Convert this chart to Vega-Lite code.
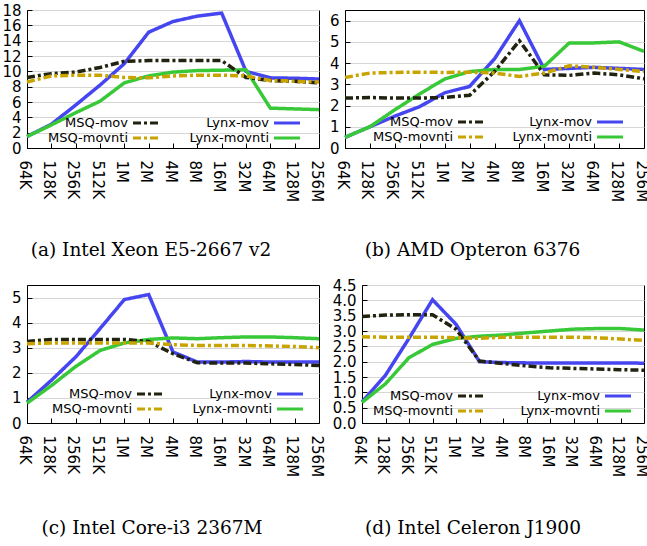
{
"$schema": "https://vega.github.io/schema/vega-lite/v6.json",
"padding": {"left": 1, "top": 2, "right": 0, "bottom": 0},
"background": "white",
"config": {
  "view": {"stroke": "black", "strokeWidth": 1},
  "axis": {"labelFont": "DejaVu Sans", "labelFontSize": 15, "labelColor": "black", "domainColor": "black", "tickColor": "black", "tickSize": -5, "gridColor": "#d6d6d6", "gridWidth": 1, "title": null},
  "axisX": {"labelAngle": 90, "labelPadding": 17, "labelOffset": -3},
  "axisY": {"labelPadding": 11, "minExtent": 0},
  "title": {"font": "DejaVu Serif", "fontSize": 18.5, "fontWeight": "normal", "color": "black", "orient": "bottom", "anchor": "middle", "offset": 39},
  "legend": {"title": null, "orient": "none", "columns": 2, "symbolType": "M-2,0H2", "symbolSize": 169, "symbolStrokeWidth": 3, "labelAlign": "right", "labelOffset": -26, "labelFont": "DejaVu Sans", "labelFontSize": 13, "labelColor": "black", "padding": 2, "rowPadding": -2, "columnPadding": 22,
    "labelExpr": "(datum.label == 'MSQ-mov' || datum.label == 'Lynx-mov') ? '\u00a0\u00a0\u00a0\u00a0' + datum.label : datum.label"}
},
"datasets": {
"a": [
{"x":"64K","s":"Lynx-mov","v":1.5},{"x":"128K","s":"Lynx-mov","v":3.1},{"x":"256K","s":"Lynx-mov","v":5.6},{"x":"512K","s":"Lynx-mov","v":8.2},{"x":"1M","s":"Lynx-mov","v":11.0},{"x":"2M","s":"Lynx-mov","v":15.1},{"x":"4M","s":"Lynx-mov","v":16.5},{"x":"8M","s":"Lynx-mov","v":17.2},{"x":"16M","s":"Lynx-mov","v":17.6},{"x":"32M","s":"Lynx-mov","v":10.0},{"x":"64M","s":"Lynx-mov","v":9.15},{"x":"128M","s":"Lynx-mov","v":9.1},{"x":"256M","s":"Lynx-mov","v":9.0},
{"x":"64K","s":"Lynx-movnti","v":1.5},{"x":"128K","s":"Lynx-movnti","v":3.0},{"x":"256K","s":"Lynx-movnti","v":4.6},{"x":"512K","s":"Lynx-movnti","v":6.1},{"x":"1M","s":"Lynx-movnti","v":8.5},{"x":"2M","s":"Lynx-movnti","v":9.4},{"x":"4M","s":"Lynx-movnti","v":9.9},{"x":"8M","s":"Lynx-movnti","v":10.1},{"x":"16M","s":"Lynx-movnti","v":10.15},{"x":"32M","s":"Lynx-movnti","v":10.2},{"x":"64M","s":"Lynx-movnti","v":5.2},{"x":"128M","s":"Lynx-movnti","v":5.1},{"x":"256M","s":"Lynx-movnti","v":5.0},
{"x":"64K","s":"MSQ-mov","v":9.2},{"x":"128K","s":"MSQ-mov","v":9.7},{"x":"256K","s":"MSQ-mov","v":9.9},{"x":"512K","s":"MSQ-mov","v":10.5},{"x":"1M","s":"MSQ-mov","v":11.3},{"x":"2M","s":"MSQ-mov","v":11.4},{"x":"4M","s":"MSQ-mov","v":11.4},{"x":"8M","s":"MSQ-mov","v":11.4},{"x":"16M","s":"MSQ-mov","v":11.4},{"x":"32M","s":"MSQ-mov","v":9.2},{"x":"64M","s":"MSQ-mov","v":8.8},{"x":"128M","s":"MSQ-mov","v":8.7},{"x":"256M","s":"MSQ-mov","v":8.5},
{"x":"64K","s":"MSQ-movnti","v":8.6},{"x":"128K","s":"MSQ-movnti","v":9.4},{"x":"256K","s":"MSQ-movnti","v":9.5},{"x":"512K","s":"MSQ-movnti","v":9.5},{"x":"1M","s":"MSQ-movnti","v":9.2},{"x":"2M","s":"MSQ-movnti","v":9.15},{"x":"4M","s":"MSQ-movnti","v":9.4},{"x":"8M","s":"MSQ-movnti","v":9.5},{"x":"16M","s":"MSQ-movnti","v":9.5},{"x":"32M","s":"MSQ-movnti","v":9.4},{"x":"64M","s":"MSQ-movnti","v":8.8},{"x":"128M","s":"MSQ-movnti","v":8.7},{"x":"256M","s":"MSQ-movnti","v":8.6}
],
"b": [
{"x":"64K","s":"Lynx-mov","v":0.5},{"x":"128K","s":"Lynx-mov","v":1.0},{"x":"256K","s":"Lynx-mov","v":1.5},{"x":"512K","s":"Lynx-mov","v":1.95},{"x":"1M","s":"Lynx-mov","v":2.6},{"x":"2M","s":"Lynx-mov","v":2.9},{"x":"4M","s":"Lynx-mov","v":4.2},{"x":"8M","s":"Lynx-mov","v":6.0},{"x":"16M","s":"Lynx-mov","v":3.7},{"x":"32M","s":"Lynx-mov","v":3.75},{"x":"64M","s":"Lynx-mov","v":3.8},{"x":"128M","s":"Lynx-mov","v":3.75},{"x":"256M","s":"Lynx-mov","v":3.7},
{"x":"64K","s":"Lynx-movnti","v":0.5},{"x":"128K","s":"Lynx-movnti","v":1.0},{"x":"256K","s":"Lynx-movnti","v":1.8},{"x":"512K","s":"Lynx-movnti","v":2.55},{"x":"1M","s":"Lynx-movnti","v":3.25},{"x":"2M","s":"Lynx-movnti","v":3.6},{"x":"4M","s":"Lynx-movnti","v":3.7},{"x":"8M","s":"Lynx-movnti","v":3.7},{"x":"16M","s":"Lynx-movnti","v":3.85},{"x":"32M","s":"Lynx-movnti","v":4.95},{"x":"64M","s":"Lynx-movnti","v":4.95},{"x":"128M","s":"Lynx-movnti","v":5.0},{"x":"256M","s":"Lynx-movnti","v":4.55},
{"x":"64K","s":"MSQ-mov","v":2.35},{"x":"128K","s":"MSQ-mov","v":2.38},{"x":"256K","s":"MSQ-mov","v":2.35},{"x":"512K","s":"MSQ-mov","v":2.35},{"x":"1M","s":"MSQ-mov","v":2.38},{"x":"2M","s":"MSQ-mov","v":2.48},{"x":"4M","s":"MSQ-mov","v":3.6},{"x":"8M","s":"MSQ-mov","v":5.05},{"x":"16M","s":"MSQ-mov","v":3.45},{"x":"32M","s":"MSQ-mov","v":3.42},{"x":"64M","s":"MSQ-mov","v":3.53},{"x":"128M","s":"MSQ-mov","v":3.45},{"x":"256M","s":"MSQ-mov","v":3.26},
{"x":"64K","s":"MSQ-movnti","v":3.32},{"x":"128K","s":"MSQ-movnti","v":3.53},{"x":"256K","s":"MSQ-movnti","v":3.56},{"x":"512K","s":"MSQ-movnti","v":3.57},{"x":"1M","s":"MSQ-movnti","v":3.56},{"x":"2M","s":"MSQ-movnti","v":3.57},{"x":"4M","s":"MSQ-movnti","v":3.53},{"x":"8M","s":"MSQ-movnti","v":3.37},{"x":"16M","s":"MSQ-movnti","v":3.53},{"x":"32M","s":"MSQ-movnti","v":3.87},{"x":"64M","s":"MSQ-movnti","v":3.8},{"x":"128M","s":"MSQ-movnti","v":3.7},{"x":"256M","s":"MSQ-movnti","v":3.6}
],
"c": [
{"x":"64K","s":"Lynx-mov","v":0.83},{"x":"128K","s":"Lynx-mov","v":1.7},{"x":"256K","s":"Lynx-mov","v":2.63},{"x":"512K","s":"Lynx-mov","v":3.76},{"x":"1M","s":"Lynx-mov","v":4.92},{"x":"2M","s":"Lynx-mov","v":5.12},{"x":"4M","s":"Lynx-mov","v":2.83},{"x":"8M","s":"Lynx-mov","v":2.43},{"x":"16M","s":"Lynx-mov","v":2.43},{"x":"32M","s":"Lynx-mov","v":2.45},{"x":"64M","s":"Lynx-mov","v":2.43},{"x":"128M","s":"Lynx-mov","v":2.43},{"x":"256M","s":"Lynx-mov","v":2.43},
{"x":"64K","s":"Lynx-movnti","v":0.79},{"x":"128K","s":"Lynx-movnti","v":1.49},{"x":"256K","s":"Lynx-movnti","v":2.25},{"x":"512K","s":"Lynx-movnti","v":2.89},{"x":"1M","s":"Lynx-movnti","v":3.19},{"x":"2M","s":"Lynx-movnti","v":3.33},{"x":"4M","s":"Lynx-movnti","v":3.39},{"x":"8M","s":"Lynx-movnti","v":3.36},{"x":"16M","s":"Lynx-movnti","v":3.4},{"x":"32M","s":"Lynx-movnti","v":3.43},{"x":"64M","s":"Lynx-movnti","v":3.43},{"x":"128M","s":"Lynx-movnti","v":3.4},{"x":"256M","s":"Lynx-movnti","v":3.36},
{"x":"64K","s":"MSQ-mov","v":3.25},{"x":"128K","s":"MSQ-mov","v":3.33},{"x":"256K","s":"MSQ-mov","v":3.33},{"x":"512K","s":"MSQ-mov","v":3.33},{"x":"1M","s":"MSQ-mov","v":3.33},{"x":"2M","s":"MSQ-mov","v":3.25},{"x":"4M","s":"MSQ-mov","v":2.76},{"x":"8M","s":"MSQ-mov","v":2.4},{"x":"16M","s":"MSQ-mov","v":2.39},{"x":"32M","s":"MSQ-mov","v":2.39},{"x":"64M","s":"MSQ-mov","v":2.36},{"x":"128M","s":"MSQ-mov","v":2.33},{"x":"256M","s":"MSQ-mov","v":2.29},
{"x":"64K","s":"MSQ-movnti","v":3.16},{"x":"128K","s":"MSQ-movnti","v":3.19},{"x":"256K","s":"MSQ-movnti","v":3.19},{"x":"512K","s":"MSQ-movnti","v":3.19},{"x":"1M","s":"MSQ-movnti","v":3.19},{"x":"2M","s":"MSQ-movnti","v":3.19},{"x":"4M","s":"MSQ-movnti","v":3.12},{"x":"8M","s":"MSQ-movnti","v":3.09},{"x":"16M","s":"MSQ-movnti","v":3.09},{"x":"32M","s":"MSQ-movnti","v":3.09},{"x":"64M","s":"MSQ-movnti","v":3.07},{"x":"128M","s":"MSQ-movnti","v":3.05},{"x":"256M","s":"MSQ-movnti","v":3.0}
],
"d": [
{"x":"64K","s":"Lynx-mov","v":0.69},{"x":"128K","s":"Lynx-mov","v":1.56},{"x":"256K","s":"Lynx-mov","v":2.76},{"x":"512K","s":"Lynx-mov","v":4.02},{"x":"1M","s":"Lynx-mov","v":3.22},{"x":"2M","s":"Lynx-mov","v":2.0},{"x":"4M","s":"Lynx-mov","v":1.97},{"x":"8M","s":"Lynx-mov","v":1.96},{"x":"16M","s":"Lynx-mov","v":1.96},{"x":"32M","s":"Lynx-mov","v":1.96},{"x":"64M","s":"Lynx-mov","v":1.96},{"x":"128M","s":"Lynx-mov","v":1.96},{"x":"256M","s":"Lynx-mov","v":1.95},
{"x":"64K","s":"Lynx-movnti","v":0.67},{"x":"128K","s":"Lynx-movnti","v":1.28},{"x":"256K","s":"Lynx-movnti","v":2.13},{"x":"512K","s":"Lynx-movnti","v":2.56},{"x":"1M","s":"Lynx-movnti","v":2.76},{"x":"2M","s":"Lynx-movnti","v":2.83},{"x":"4M","s":"Lynx-movnti","v":2.87},{"x":"8M","s":"Lynx-movnti","v":2.94},{"x":"16M","s":"Lynx-movnti","v":3.0},{"x":"32M","s":"Lynx-movnti","v":3.06},{"x":"64M","s":"Lynx-movnti","v":3.08},{"x":"128M","s":"Lynx-movnti","v":3.08},{"x":"256M","s":"Lynx-movnti","v":3.03},
{"x":"64K","s":"MSQ-mov","v":3.47},{"x":"128K","s":"MSQ-mov","v":3.52},{"x":"256K","s":"MSQ-mov","v":3.53},{"x":"512K","s":"MSQ-mov","v":3.53},{"x":"1M","s":"MSQ-mov","v":3.06},{"x":"2M","s":"MSQ-mov","v":2.02},{"x":"4M","s":"MSQ-mov","v":1.94},{"x":"8M","s":"MSQ-mov","v":1.86},{"x":"16M","s":"MSQ-mov","v":1.8},{"x":"32M","s":"MSQ-mov","v":1.78},{"x":"64M","s":"MSQ-mov","v":1.76},{"x":"128M","s":"MSQ-mov","v":1.74},{"x":"256M","s":"MSQ-mov","v":1.72},
{"x":"64K","s":"MSQ-movnti","v":2.81},{"x":"128K","s":"MSQ-movnti","v":2.8},{"x":"256K","s":"MSQ-movnti","v":2.8},{"x":"512K","s":"MSQ-movnti","v":2.8},{"x":"1M","s":"MSQ-movnti","v":2.78},{"x":"2M","s":"MSQ-movnti","v":2.76},{"x":"4M","s":"MSQ-movnti","v":2.8},{"x":"8M","s":"MSQ-movnti","v":2.8},{"x":"16M","s":"MSQ-movnti","v":2.8},{"x":"32M","s":"MSQ-movnti","v":2.8},{"x":"64M","s":"MSQ-movnti","v":2.78},{"x":"128M","s":"MSQ-movnti","v":2.74},{"x":"256M","s":"MSQ-movnti","v":2.69}
]
},
"spacing": 17,
"resolve": {"scale": {"color": "independent", "strokeDash": "independent"}, "legend": {"color": "independent", "strokeDash": "independent"}},
"vconcat": [
{
 "hconcat": [
  {
   "width": 292, "height": 138,
   "data": {"name": "a"},
   "title": {"text": "(a) Intel Xeon E5-2667 v2", "dx": -22},
   "mark": {"type": "line", "strokeWidth": 3.5},
   "encoding": {
     "x": {"field": "x", "type": "ordinal", "sort": ["64K","128K","256K","512K","1M","2M","4M","8M","16M","32M","64M","128M","256M"], "scale": {"padding": 0}},
     "y": {"field": "v", "type": "quantitative", "scale": {"domain": [0, 18], "nice": false}, "axis": {"values": [0,2,4,6,8,10,12,14,16,18]}},
     "color": {"field": "s", "type": "nominal", "scale": {"domain": ["MSQ-mov","MSQ-movnti","Lynx-mov","Lynx-movnti"], "range": ["#222211","#c9a400","#4646f0","#38c838"]}, "legend": {"legendX": 109, "legendY": 103, "columnPadding": 24}},
     "strokeDash": {"field": "s", "type": "nominal", "scale": {"domain": ["MSQ-mov","MSQ-movnti","Lynx-mov","Lynx-movnti"], "range": [[8,3,3,3],[8,3,3,3],[1,0],[1,0]]}, "legend": {"legendX": 109, "legendY": 103, "columnPadding": 24}}
   }
  },
  {
   "width": 299, "height": 138,
   "data": {"name": "b"},
   "title": {"text": "(b) AMD Opteron 6376", "dx": -22},
   "mark": {"type": "line", "strokeWidth": 3.5},
   "encoding": {
     "x": {"field": "x", "type": "ordinal", "sort": ["64K","128K","256K","512K","1M","2M","4M","8M","16M","32M","64M","128M","256M"], "scale": {"padding": 0}},
     "y": {"field": "v", "type": "quantitative", "scale": {"domain": [0, 6.5], "nice": false}, "axis": {"values": [0,1,2,3,4,5,6]}},
     "color": {"field": "s", "type": "nominal", "scale": {"domain": ["MSQ-mov","MSQ-movnti","Lynx-mov","Lynx-movnti"], "range": ["#222211","#c9a400","#4646f0","#38c838"]}, "legend": {"legendX": 116, "legendY": 102, "columnPadding": 22}},
     "strokeDash": {"field": "s", "type": "nominal", "scale": {"domain": ["MSQ-mov","MSQ-movnti","Lynx-mov","Lynx-movnti"], "range": [[8,3,3,3],[8,3,3,3],[1,0],[1,0]]}, "legend": {"legendX": 116, "legendY": 102, "columnPadding": 22}}
   }
  }
 ],
 "spacing": 26,
 "bounds": "flush",
 "resolve": {"scale": {"color": "independent", "strokeDash": "independent"}, "legend": {"color": "independent", "strokeDash": "independent"}}
},
{
 "hconcat": [
  {
   "width": 292, "height": 138,
   "data": {"name": "c"},
   "title": {"text": "(c) Intel Core-i3 2367M", "dx": -21, "offset": 42},
   "mark": {"type": "line", "strokeWidth": 3.5},
   "encoding": {
     "x": {"field": "x", "type": "ordinal", "sort": ["64K","128K","256K","512K","1M","2M","4M","8M","16M","32M","64M","128M","256M"], "scale": {"padding": 0}},
     "y": {"field": "v", "type": "quantitative", "scale": {"domain": [0, 5.5], "nice": false}, "axis": {"values": [0,1,2,3,4,5]}},
     "color": {"field": "s", "type": "nominal", "scale": {"domain": ["MSQ-mov","MSQ-movnti","Lynx-mov","Lynx-movnti"], "range": ["#222211","#c9a400","#4646f0","#38c838"]}, "legend": {"legendX": 113, "legendY": 99, "columnPadding": 23}},
     "strokeDash": {"field": "s", "type": "nominal", "scale": {"domain": ["MSQ-mov","MSQ-movnti","Lynx-mov","Lynx-movnti"], "range": [[8,3,3,3],[8,3,3,3],[1,0],[1,0]]}, "legend": {"legendX": 113, "legendY": 99, "columnPadding": 23}}
   }
  },
  {
   "width": 282, "height": 138,
   "data": {"name": "d"},
   "title": {"text": "(d) Intel Celeron J1900", "dx": -30, "offset": 42},
   "mark": {"type": "line", "strokeWidth": 3.5},
   "encoding": {
     "x": {"field": "x", "type": "ordinal", "sort": ["64K","128K","256K","512K","1M","2M","4M","8M","16M","32M","64M","128M","256M"], "scale": {"padding": 0}},
     "y": {"field": "v", "type": "quantitative", "scale": {"domain": [0, 4.5], "nice": false}, "axis": {"values": [0,0.5,1,1.5,2,2.5,3,3.5,4,4.5], "format": ".1f"}},
     "color": {"field": "s", "type": "nominal", "scale": {"domain": ["MSQ-mov","MSQ-movnti","Lynx-mov","Lynx-movnti"], "range": ["#222211","#c9a400","#4646f0","#38c838"]}, "legend": {"legendX": 99, "legendY": 101, "columnPadding": 30}},
     "strokeDash": {"field": "s", "type": "nominal", "scale": {"domain": ["MSQ-mov","MSQ-movnti","Lynx-mov","Lynx-movnti"], "range": [[8,3,3,3],[8,3,3,3],[1,0],[1,0]]}, "legend": {"legendX": 99, "legendY": 101, "columnPadding": 30}}
   }
  }
 ],
 "spacing": 43,
 "bounds": "flush",
 "resolve": {"scale": {"color": "independent", "strokeDash": "independent"}, "legend": {"color": "independent", "strokeDash": "independent"}}
}
]
}
